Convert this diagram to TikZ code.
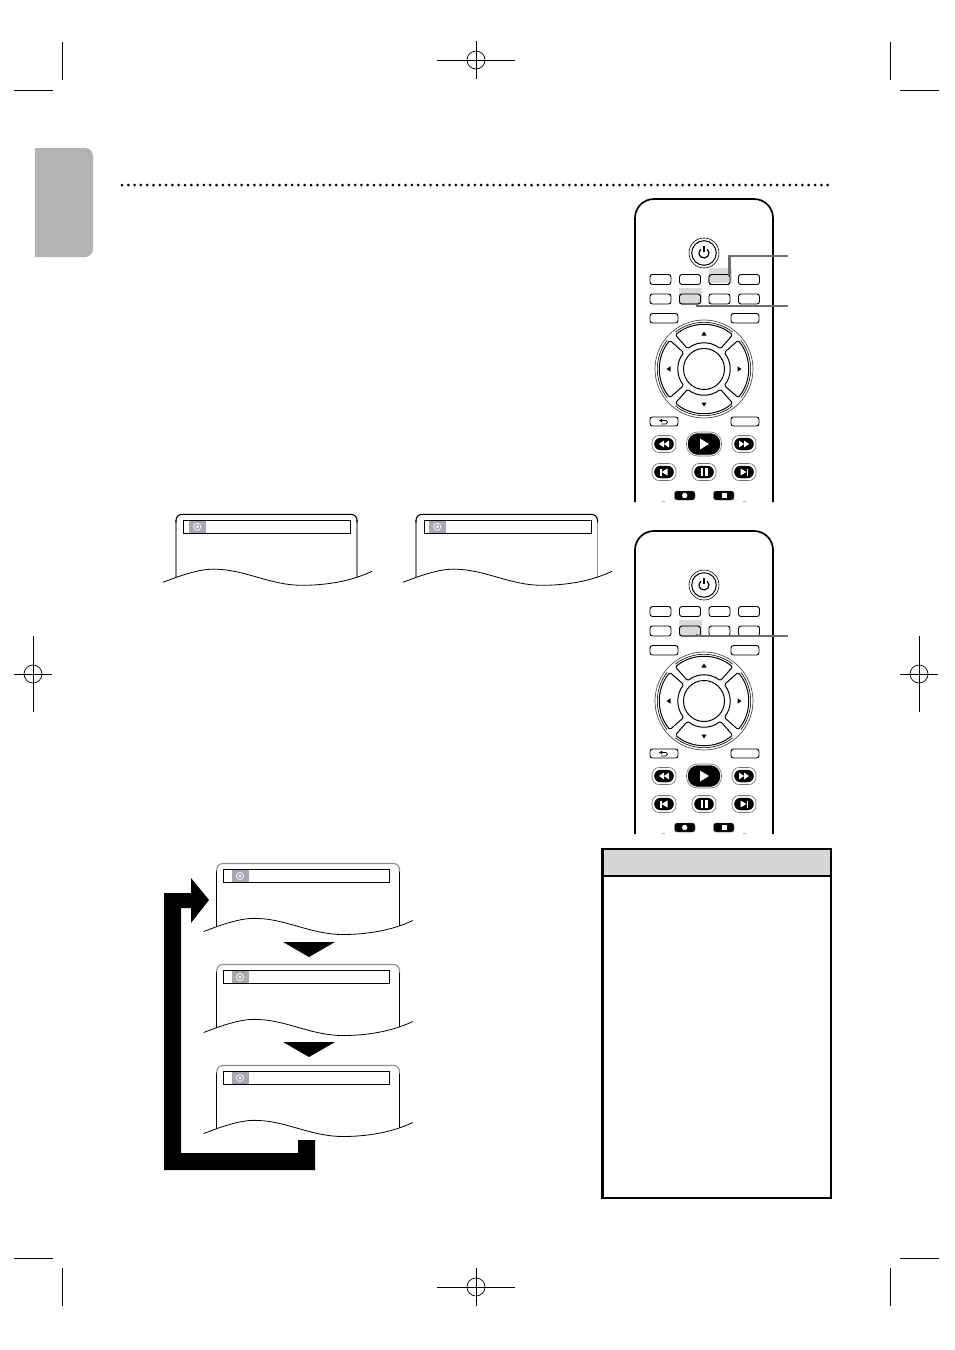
\documentclass[tikz,border=0pt]{standalone}
\definecolor{tabgray}{HTML}{B3B3B3}
\definecolor{hlgray}{HTML}{D4D4D4}
\definecolor{leadgray}{HTML}{6E6E6E}
\definecolor{icongray}{HTML}{A3A9B8}
\definecolor{headgray}{HTML}{D6D6D6}
\tikzset{
  cropline/.style={black,line width=.7pt},
  remotebody/.style={black,line width=1.7pt,rounded corners=19pt},
  smallbtn/.style={black,fill=white,line width=.9pt,rounded corners=2.5pt},
  highlight/.style={fill=hlgray,draw=none},
  leader/.style={leadgray,line width=2.8pt,line join=miter},
  pill/.style={fill=black,draw=black,rounded corners=6pt},
  halo/.style={draw=black!55,fill=white,line width=.6pt,rounded corners=7pt},
  glyph/.style={fill=white,draw=none},
  padseg/.style={black,fill=white,line width=1pt,rounded corners=1.5pt},
  barbox/.style={black,fill=white,line width=1pt},
  iconbox/.style={fill=icongray,draw=black!35,line width=.3pt},
}
% crop targets: centre x, y
\newcommand{\targetwide}[2]{%
  \draw[cropline] (#1,#2) circle (9);
  \draw[cropline] (#1-39,#2) -- (#1+39,#2);
  \draw[cropline] (#1,#2-19) -- (#1,#2+19);
}
\newcommand{\targettall}[2]{%
  \draw[cropline] (#1,#2) circle (9);
  \draw[cropline] (#1-19,#2) -- (#1+19,#2);
  \draw[cropline] (#1,#2-38) -- (#1,#2+38);
}
% screen: left x, top y, width, bar left, bar right, icon left, top colour, side colour
\newcommand{\screen}[8]{%
  \begin{scope}[shift={(#1,#2)}]
    \draw[#8,line width=1.1pt] (0,66) -- (0,6);
    \draw[#8,line width=1.1pt] (#3,6) -- (#3,66);
    \draw[#7,line width=1.1pt,rounded corners=6pt] (0,8) -- (0,0) -- (#3,0) -- (#3,8);
    \draw[barbox] (#4,6) rectangle (#5,19);
    \draw[iconbox] (#6,7) rectangle (#6+16,18);
    \draw[white,line width=.7pt] (#6+8,12.5) circle (3.6);
    \fill[white] (#6+8,12.5) circle (1.6);
    \fill[white] (-13,68) .. controls (15,57) and (30,54) .. (42,55)
      .. controls (70,56) and (95,71) .. (126,71)
      .. controls (150,71) and (175,67) .. (196,57) -- (196,76) -- (-13,76) -- cycle;
    \draw[black,line width=.8pt] (-13,68) .. controls (15,57) and (30,54) .. (42,55)
      .. controls (70,56) and (95,71) .. (126,71)
      .. controls (150,71) and (175,67) .. (196,57);
  \end{scope}
}
\newcommand{\padsegment}[1]{%
  \begin{scope}[x=1pt,y=1pt,shift={(704pt,-369pt)},rotate=#1]
    \draw[padseg] (50:44.5) arc (50:130:44.5) -- (129:26) arc (129:51:26) -- cycle;
    \draw[black,line width=.6pt] (52:46.7) arc (52:128:46.7);
    \fill[black] (-2.6,33.5) -- (2.6,33.5) -- (0,37.5) -- cycle;
  \end{scope}
}
\newcommand{\btnrow}[2]{%
  \draw[smallbtn] (650,#1) rectangle (671,#2);
  \draw[smallbtn] (679.5,#1) rectangle (700.5,#2);
  \draw[smallbtn] (709,#1) rectangle (730,#2);
  \draw[smallbtn] (738.5,#1) rectangle (759.5,#2);
}
\newcommand{\roundbtn}[2]{%
  \draw[halo] (#1-12,#2-8.5) rectangle (#1+12,#2+8.5);
  \draw[pill] (#1-9.5,#2-6) rectangle (#1+9.5,#2+6);
}
\newcommand{\remote}[1]{%
  \begin{scope}[shift={(0,#1)}]
    \draw[remotebody] (635,502) -- (635,199) -- (773,199) -- (773,502);
    % power
    \draw[black,line width=.6pt] (704,253) circle (15);
    \draw[black,line width=1pt] (704,253) circle (12.3);
    \begin{scope}[x=1pt,y=1pt,shift={(704pt,-253pt)}]
      \draw[black,line width=1.2pt] (50:5) arc (50:-230:5);
      \draw[black,line width=1.2pt] (0,1) -- (0,7);
    \end{scope}
    % small buttons
    \btnrow{274.5}{284.5}
    \btnrow{294}{304}
    \draw[smallbtn] (650,313.5) rectangle (678,323);
    \draw[smallbtn] (731,313.5) rectangle (759,323);
    % direction pad
    \draw[black!70,line width=.7pt] (704,369) circle (49);
    \padsegment{0}\padsegment{90}\padsegment{180}\padsegment{270}
    \draw[black,line width=1pt] (704,369) circle (20.5);
    % return and blank
    \draw[smallbtn] (650,417) rectangle (678,426);
    \draw[smallbtn] (731,417) rectangle (759,426);
    \draw[black,line width=.7pt] (661,420.5) -- (666,420.5) .. controls (668,420.5) and (668,424) .. (666,424) -- (661,424);
    \fill[black] (659,420.5) -- (662,418.7) -- (662,422.3) -- cycle;
    % transport
    \roundbtn{664}{444}
    \roundbtn{744}{444}
    \draw[halo,rounded corners=11pt] (686.5,432) rectangle (721.5,456);
    \draw[pill,rounded corners=10pt] (688,433.5) rectangle (720,454.5);
    \fill[glyph] (700,438.5) -- (709,444) -- (700,449.5) -- cycle;
    \fill[glyph] (664,440.5) -- (659,444) -- (664,447.5) -- cycle;
    \fill[glyph] (669,440.5) -- (664,444) -- (669,447.5) -- cycle;
    \fill[glyph] (744,440.5) -- (749,444) -- (744,447.5) -- cycle;
    \fill[glyph] (739,440.5) -- (744,444) -- (739,447.5) -- cycle;
    \roundbtn{664}{472}
    \roundbtn{704}{472}
    \roundbtn{744}{472}
    \fill[glyph] (660,468.5) rectangle (661.5,475.5);
    \fill[glyph] (667.5,468.5) -- (661.5,472) -- (667.5,475.5) -- cycle;
    \fill[glyph] (700.5,468) rectangle (702.8,476);
    \fill[glyph] (705.2,468) rectangle (707.5,476);
    \fill[glyph] (746.5,468.5) rectangle (748,475.5);
    \fill[glyph] (740.5,468.5) -- (746.5,472) -- (740.5,475.5) -- cycle;
    \draw[pill,rounded corners=2.5pt,draw=black!60] (674.5,491) rectangle (695,500);
    \draw[pill,rounded corners=2.5pt,draw=black!60] (713.5,491) rectangle (734,500);
    \fill[glyph] (684.7,495.5) circle (2.7);
    \fill[glyph] (721.5,493) rectangle (726.5,498);
    \draw[black!30,line width=.8pt] (662,501.5) -- (665,501.5);
    \draw[black!30,line width=.8pt] (743,501.5) -- (746,501.5);
  \end{scope}
}
\begin{document}
\begin{tikzpicture}[x=1pt,y=-1pt]
\useasboundingbox (0,0) rectangle (954,1350);
\fill[white] (0,0) rectangle (954,1350);

% crop marks
\draw[cropline] (62,42) -- (62,80);
\draw[cropline] (14,90) -- (53,90);
\draw[cropline] (890,42) -- (890,80);
\draw[cropline] (900,90) -- (939,90);
\draw[cropline] (62,1268) -- (62,1306);
\draw[cropline] (14,1258) -- (53,1258);
\draw[cropline] (890,1268) -- (890,1306);
\draw[cropline] (900,1258) -- (939,1258);
\targetwide{476}{60}
\targetwide{476}{1287}
\targettall{33}{674}
\targettall{919}{674}

% language tab
\fill[tabgray,rounded corners=8pt] (35,148) -- (93,148) -- (93,257) -- (35,257) -- cycle;
\fill[tabgray] (35,148) rectangle (50,257);

% dotted rule
\foreach \i in {0,...,112} \fill[black] (122+\i*6.3,185) circle (1.5);

% remote 1 and 2
\remote{0}
\fill[highlight,opacity=.85] (709,268) rectangle (732,283);
\fill[highlight,opacity=.85] (679,288) rectangle (702,303);
\draw[smallbtn,fill=none] (709,274.5) rectangle (730,284.5);
\draw[smallbtn,fill=none] (679.5,294) rectangle (700.5,304);
\coordinate (leadA) at (729.3,275);
\coordinate (leadB) at (697,303.5);
\coordinate (endA) at (788,256);
\coordinate (endB) at (788,306);
\draw[leader] (leadA) |- (endA);
\draw[leader] (leadB) |- (endB);

\remote{332}
\fill[highlight,opacity=.85] (679,620) rectangle (702,635);
\draw[smallbtn,fill=none] (679.5,626) rectangle (700.5,636);
\coordinate (leadC) at (697,634);
\coordinate (endC) at (788,636);
\draw[leader] (leadC) |- (endC);

% screens
\screen{176}{514.3}{181}{7.3}{174}{13.3}{black}{black!45}
\screen{416}{514.3}{181.5}{8}{175.5}{13.3}{black}{black!45}
\screen{216.8}{863.5}{182.7}{6.7}{172.3}{15.2}{black!45}{black}
\screen{216.8}{964.5}{182.7}{6.7}{172.3}{15.2}{black!45}{black}
\screen{216.8}{1065.5}{182.7}{6.7}{172.3}{15.2}{black!45}{black}

% triangles between screens
\fill[black] (283,942) -- (335,942) -- (309,957) -- cycle;
\fill[black] (283,1042) -- (335,1042) -- (309,1057) -- cycle;

% return arrow
\fill[black] (164,893) -- (191,893) -- (191,878) -- (209,900) -- (191,923) -- (191,908)
  -- (181,908) -- (181,1153) -- (298,1153) -- (298,1140) -- (315,1140) -- (315,1170)
  -- (164,1170) -- cycle;

% hint box
\fill[headgray] (602,849) rectangle (831,876);
\draw[black,line width=1.6pt] (602,876) -- (831,876);
\draw[black,line width=2.6pt] (602.5,849) rectangle (831,1198);
\end{tikzpicture}
\end{document}
